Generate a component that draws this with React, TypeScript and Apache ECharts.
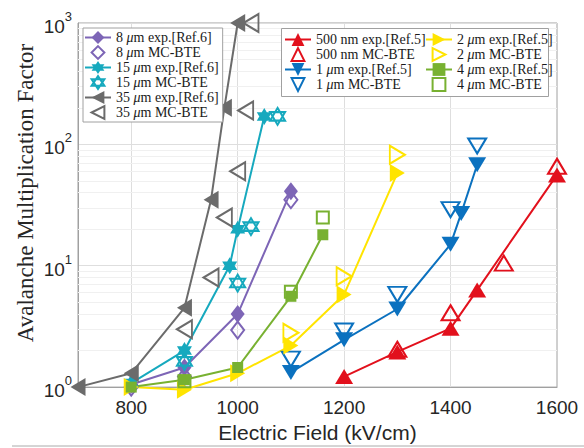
import React, { useEffect, useRef } from 'react';
import * as echarts from 'echarts';

// ---- data (x: electric field kV/cm, y: multiplication factor) ----
const e8X = [800, 900, 1000, 1100];
const e8Y = [1.05, 1.45, 4.0, 41];
const m8X = [800, 900, 1000, 1100];
const m8Y = [1.0, 1.22, 2.95, 35];
const e15X = [800, 900, 985, 1000, 1050];
const e15Y = [1.08, 2.0, 10, 20, 170];
const m15X = [900, 1000, 1025, 1075];
const m15Y = [1.63, 7.2, 21, 170];
const e35X = [700, 800, 900, 950, 975, 1000];
const e35Y = [1.0, 1.3, 4.5, 35, 200, 1000];
const m35X = [900, 950, 975, 1000, 1015, 1025];
const m35Y = [3.0, 8.0, 25, 60, 190, 1000];
const e500X = [1200, 1300, 1400, 1450, 1600];
const e500Y = [1.22, 1.95, 3.05, 6.3, 56];
const m500X = [1300, 1400, 1500, 1600];
const m500Y = [2.05, 4.1, 10.5, 66];
const e1X = [1100, 1200, 1300, 1400, 1420, 1450];
const e1Y = [1.32, 2.45, 4.4, 15, 27, 68];
const m1X = [1100, 1200, 1300, 1400, 1450];
const m1Y = [1.7, 2.9, 5.8, 29, 97];
const e2X = [800, 900, 1000, 1100, 1200, 1300];
const e2Y = [1.0, 0.95, 1.3, 2.2, 5.8, 58];
const m2X = [1100, 1200, 1300];
const m2Y = [2.8, 8.2, 82];
const e4X = [800, 900, 1000, 1100, 1160];
const e4Y = [1.0, 1.15, 1.45, 5.6, 18];
const m4X = [900, 1100, 1160];
const m4Y = [1.12, 6.1, 25];

const legendLeftNames = [
  '8 μm exp.[Ref.6]', '8 μm MC-BTE',
  '15 μm exp.[Ref.6]', '15 μm MC-BTE',
  '35 μm exp.[Ref.6]', '35 μm MC-BTE',
];
const legendRightCol1 = ['500 nm exp.[Ref.5]', '500 nm MC-BTE', '1 μm exp.[Ref.5]', '1 μm MC-BTE'];
const legendRightCol2 = ['2 μm exp.[Ref.5]', '2 μm MC-BTE', '4 μm exp.[Ref.5]', '4 μm MC-BTE'];

const xMajorGrid = [800, 1000, 1200, 1400];
const xTickLabels = [800, 1000, 1200, 1400, 1600];

const C_PURPLE = '#7D65B6';
const C_CYAN = '#16A9BE';
const C_GRAY = '#6B6B6B';
const C_RED = '#E2101C';
const C_BLUE = '#0B71BF';
const C_YELLOW = '#FFE400';
const C_GREEN = '#78B131';

const TRI_UP = 'path://M5,0 L10,9 L0,9 Z';
const TRI_DOWN = 'path://M0,0 L10,0 L5,9 Z';
const TRI_LEFT = 'path://M0,5 L9,0 L9,10 Z';
const TRI_RIGHT = 'path://M0,0 L9,5 L0,10 Z';
const HEXA = 'path://M10,0 L18.66,15 L1.34,15 Z M10,20 L1.34,5 L18.66,5 Z';

const pts = (xs: number[], ys: number[]) => xs.map((x, i) => [x, ys[i]]);

function expSeries(name: string, xs: number[], ys: number[], color: string, symbol: string, size: any) {
  return {
    type: 'line', name, data: pts(xs, ys), symbol, symbolSize: size, showSymbol: true,
    lineStyle: { width: 2, color }, itemStyle: { color }, clip: false, z: 2,
  };
}
function mcSeries(name: string, xs: number[], ys: number[], color: string, symbol: string, size: any) {
  return {
    type: 'line', name, data: pts(xs, ys), symbol, symbolSize: size, showSymbol: true,
    lineStyle: { width: 0, opacity: 0 },
    itemStyle: { color: 'rgba(255,255,255,0)', borderColor: color, borderWidth: 2 },
    clip: false, z: 2,
  };
}

const serifFont = '"Liberation Serif", "Times New Roman", serif';
const sansFont = '"Liberation Sans", Arial, sans-serif';

function legendCommon(data: string[], left: number, top: number) {
  return {
    data, left, top, orient: 'vertical', itemWidth: 26, itemHeight: 16, itemGap: 0,
    padding: [2, 4, 2, 1], selectedMode: false,
    formatter: (name: string) => name.replace('μ', '{i|μ}'),
    textStyle: {
      fontFamily: serifFont, fontSize: 14, lineHeight: 15, color: '#1a1a1a',
      rich: { i: { fontFamily: serifFont, fontStyle: 'italic', fontSize: 14, lineHeight: 15, color: '#1a1a1a' } },
    },
  };
}

export default function App() {
  const ref = useRef<HTMLDivElement>(null);
  useEffect(() => {
    if (!ref.current) return;
    const chart = echarts.init(ref.current, undefined, { renderer: 'svg' });

    const minorY: number[] = [];
    [1, 10, 100].forEach((d) => { for (let k = 2; k <= 9; k++) minorY.push(k * d); });

    const gridLines: any[] = [
      ...xMajorGrid.map((v) => ({ xAxis: v, lineStyle: { color: '#dedede', width: 1, type: 'solid' } })),
      ...minorY.map((v) => ({ yAxis: v, lineStyle: { color: '#f0f0f0', width: 1, type: 'solid' } })),
    ];

    const option: any = {
      animation: false,
      backgroundColor: '#ffffff',
      grid: { left: 78, right: 27, top: 23, bottom: 60.5, show: true, borderColor: '#a0a0a0', borderWidth: 1 },
      xAxis: {
        type: 'value', min: 700, max: 1600, interval: 100,
        axisLine: { show: true, lineStyle: { color: '#a0a0a0' } },
        axisTick: { show: false },
        splitLine: { show: false },
        axisLabel: {
          margin: 11, fontFamily: sansFont, fontSize: 19, color: '#262626',
          formatter: (v: number) => (xTickLabels.indexOf(v) >= 0 ? String(v) : ''),
        },
        name: 'Electric Field (kV/cm)', nameLocation: 'middle', nameGap: 33,
        nameTextStyle: { fontFamily: sansFont, fontSize: 21, color: '#262626' },
      },
      yAxis: {
        type: 'log', logBase: 10, min: 1, max: 1000,
        axisLine: { show: true, lineStyle: { color: '#a0a0a0' } },
        axisTick: { show: false },
        splitLine: { show: true, lineStyle: { color: '#dedede' } },
        axisLabel: {
          margin: 6,
          formatter: (v: number) => `{b|10}{s|${Math.round(Math.log10(v))}}`,
          rich: {
            b: { fontFamily: sansFont, fontSize: 19, color: '#262626', lineHeight: 19, verticalAlign: 'bottom' },
            s: { fontFamily: sansFont, fontSize: 13, color: '#262626', lineHeight: 26, verticalAlign: 'top' },
          },
        },
      },
      legend: [
        { ...legendCommon(legendLeftNames, 83, 28), borderColor: '#a0a0a0', borderWidth: 1, backgroundColor: '#ffffff' },
        legendCommon(legendRightCol1, 283, 30),
        legendCommon(legendRightCol2, 424, 30),
      ],
      graphic: [
        { type: 'rect', z: 3, shape: { x: 281.5, y: 28.5, width: 267, height: 68 }, style: { fill: '#ffffff', stroke: '#a0a0a0', lineWidth: 1 } },
        {
          type: 'text', z: 10, x: 25, y: 193, rotation: Math.PI / 2,
          style: { text: 'Avalanche Multiplication Factor', font: `23px ${serifFont}`, fill: '#262626', textAlign: 'center', textVerticalAlign: 'middle' },
        },
        { type: 'line', z: 10, shape: { x1: 12, y1: 446, x2: 584, y2: 446 }, style: { stroke: '#aaaaaa', lineWidth: 1 } },
      ],
      series: [
        { type: 'line', name: 'gridlines', data: [], silent: true, z: 1,
          markLine: { silent: true, z: 1, symbol: ['none', 'none'], label: { show: false }, data: gridLines } },
        mcSeries('8 μm MC-BTE', m8X, m8Y, C_PURPLE, 'diamond', [13, 17]),
        expSeries('8 μm exp.[Ref.6]', e8X, e8Y, C_PURPLE, 'diamond', [14, 18]),
        mcSeries('15 μm MC-BTE', m15X, m15Y, C_CYAN, HEXA, [15, 17]),
        expSeries('15 μm exp.[Ref.6]', e15X, e15Y, C_CYAN, HEXA, [15, 17]),
        mcSeries('35 μm MC-BTE', m35X, m35Y, C_GRAY, TRI_LEFT, [15, 18]),
        expSeries('35 μm exp.[Ref.6]', e35X, e35Y, C_GRAY, TRI_LEFT, [15, 18]),
        mcSeries('500 nm MC-BTE', m500X, m500Y, C_RED, TRI_UP, [18, 15]),
        expSeries('500 nm exp.[Ref.5]', e500X, e500Y, C_RED, TRI_UP, [18, 15]),
        mcSeries('1 μm MC-BTE', m1X, m1Y, C_BLUE, TRI_DOWN, [18, 15]),
        expSeries('1 μm exp.[Ref.5]', e1X, e1Y, C_BLUE, TRI_DOWN, [18, 15]),
        mcSeries('2 μm MC-BTE', m2X, m2Y, C_YELLOW, TRI_RIGHT, [15, 18]),
        expSeries('2 μm exp.[Ref.5]', e2X, e2Y, C_YELLOW, TRI_RIGHT, [15, 18]),
        mcSeries('4 μm MC-BTE', m4X, m4Y, C_GREEN, 'rect', [12, 12]),
        expSeries('4 μm exp.[Ref.5]', e4X, e4Y, C_GREEN, 'rect', [11, 11]),
      ],
    };
    chart.setOption(option);
    return () => chart.dispose();
  }, []);
  return <div ref={ref} style={{ position: 'fixed', left: 0, top: 0, width: 584, height: 448 }} />;
}
